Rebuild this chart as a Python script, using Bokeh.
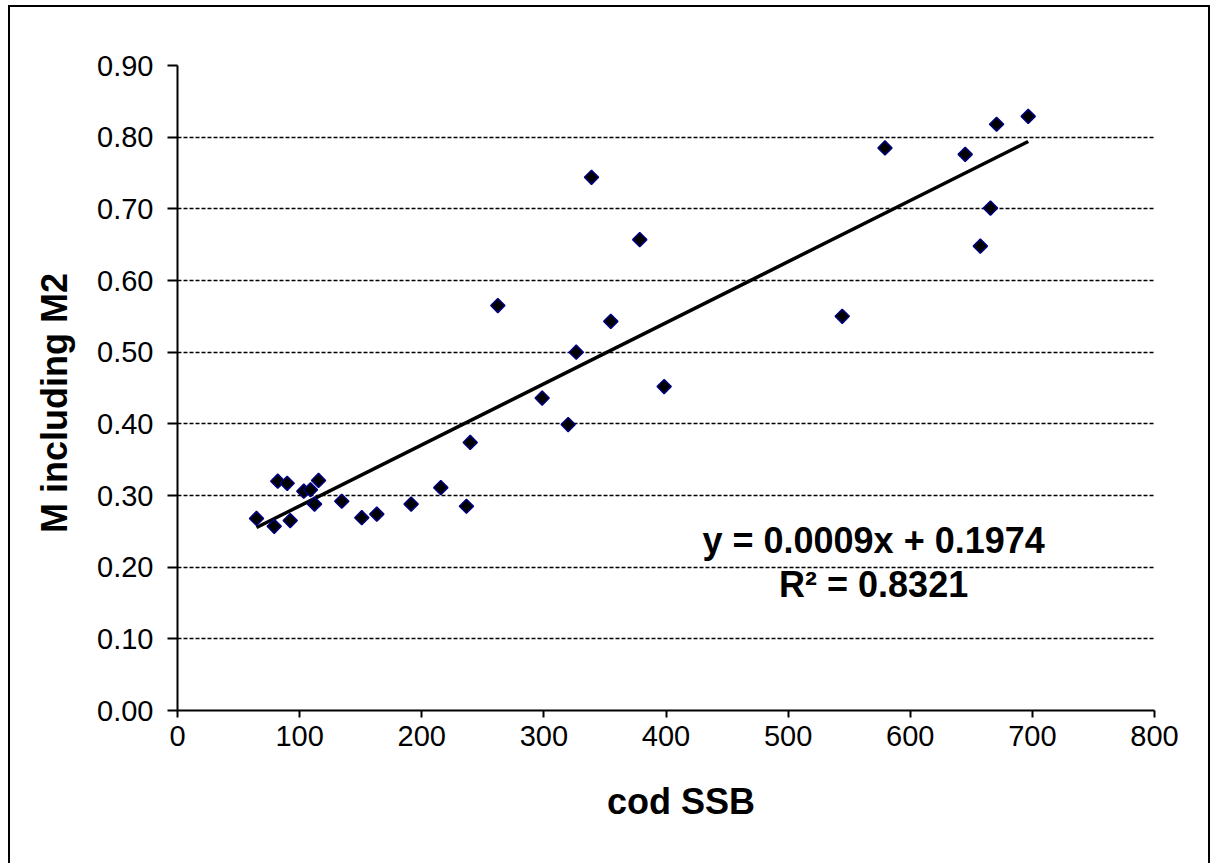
import numpy as np
from bokeh.plotting import figure
from bokeh.models import FixedTicker, PrintfTickFormatter, Label, Range1d
from bokeh.embed import file_html
from bokeh.resources import INLINE

# data
cod_ssb = [64.7, 79.2, 82.1, 89.8, 92.3, 103.4, 108.9, 112.2, 115.5, 134.5,
           150.9, 163.2, 191.3, 215.6, 236.6, 239.7, 262.3, 298.6, 319.9, 326.5,
           339.0, 354.8, 378.5, 398.5, 544.3, 579.3, 645.0, 657.4, 665.7, 670.7,
           696.6]
m_incl_m2 = [0.268, 0.257, 0.320, 0.317, 0.265, 0.306, 0.308, 0.288, 0.321, 0.292,
             0.269, 0.274, 0.288, 0.311, 0.285, 0.374, 0.565, 0.436, 0.399, 0.500,
             0.744, 0.543, 0.657, 0.452, 0.550, 0.785, 0.776, 0.648, 0.701, 0.818,
             0.829]
x_ticks = [0, 100, 200, 300, 400, 500, 600, 700, 800]
y_ticks = [0.0, 0.1, 0.2, 0.3, 0.4, 0.5, 0.6, 0.7, 0.8, 0.9]
eq_text = "y = 0.0009x + 0.1974"
r2_text = "R\u00b2 = 0.8321"
x_title = "cod SSB"
y_title = "M including M2"

FONT = "Liberation Sans"
NB = "\u00a0"

p = figure(frame_width=977, frame_height=645,
           min_border_left=167, min_border_right=54,
           min_border_top=58, min_border_bottom=153,
           output_backend="svg", toolbar_location=None,
           x_range=Range1d(0, 800), y_range=Range1d(0, 0.9))
p.margin = (5, 0, 0, 8)
p.styles = {"border": "2px solid black"}
p.outline_line_color = None
p.background_fill_color = "white"
p.border_fill_color = "white"

# grid
p.xgrid.grid_line_color = None
p.ygrid.grid_line_color = "black"
p.ygrid.grid_line_dash = "4 2"
p.ygrid.grid_line_width = 1.4
p.ygrid.ticker = FixedTicker(ticks=y_ticks)

# axes
p.xaxis.ticker = FixedTicker(ticks=x_ticks)
p.yaxis.ticker = FixedTicker(ticks=y_ticks)
p.yaxis.formatter = PrintfTickFormatter(format="%.2f")
for ax in (p.xaxis[0], p.yaxis[0]):
    ax.axis_line_color = "black"
    ax.axis_line_width = 2
    ax.major_tick_line_color = "black"
    ax.major_tick_line_width = 2
    ax.minor_tick_line_color = None
    ax.major_tick_in = 0
    ax.major_label_text_font = FONT
    ax.major_label_text_font_size = "29px"
    ax.major_label_text_color = "black"
    ax.axis_label_text_font = FONT
    ax.axis_label_text_font_size = "36px"
    ax.axis_label_text_font_style = "bold"
    ax.axis_label_text_color = "black"
p.yaxis.major_tick_out = 10
p.xaxis.major_tick_out = 7
p.yaxis.major_label_standoff = 14
p.xaxis.major_label_standoff = 8
p.yaxis.axis_label = y_title + NB * 3
p.xaxis.axis_label = NB * 3 + x_title
p.yaxis.axis_label_standoff = 19
p.xaxis.axis_label_standoff = 32

# trend line (least squares fit of the points)
slope, intercept = np.polyfit(cod_ssb, m_incl_m2, 1)
tx = [min(cod_ssb), max(cod_ssb)]
ty = [slope * v + intercept for v in tx]
p.line(tx, ty, line_color="black", line_width=3.5)

# points
p.scatter(cod_ssb, m_incl_m2, marker="square", angle=np.pi / 4, size=10,
          fill_color="black", line_color="#000080", line_width=1.5)

# equation text
p.add_layout(Label(x=570, y=0.237, text=eq_text, text_align="center",
                   text_baseline="alphabetic", text_font=FONT,
                   text_font_size="36px", text_font_style="bold",
                   text_color="black"))
p.add_layout(Label(x=570, y=0.176, text=r2_text, text_align="center",
                   text_baseline="alphabetic", text_font=FONT,
                   text_font_size="36px", text_font_style="bold",
                   text_color="black"))

open("out.html", "w").write(file_html(p, INLINE))
